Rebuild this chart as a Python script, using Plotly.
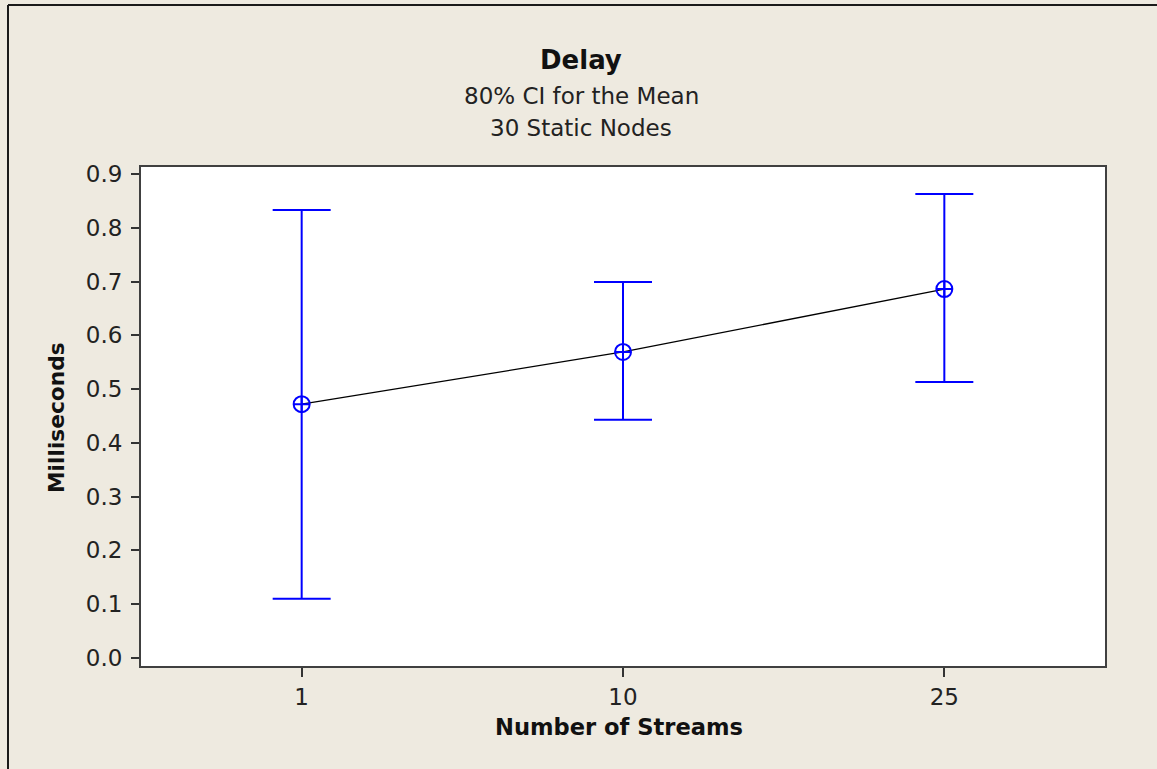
import plotly.graph_objects as go

# Delay interval plot: mean and 80% confidence interval per stream count
streams = ["1", "10", "25"]
mean_ms = [0.472, 0.569, 0.686]
upper_ms = [0.833, 0.699, 0.863]
lower_ms = [0.110, 0.443, 0.513]
y_ticks = [0.0, 0.1, 0.2, 0.3, 0.4, 0.5, 0.6, 0.7, 0.8, 0.9]

BG = "#EEEAE0"
BLUE = "#0000FF"
FONT = "DejaVu Sans"

err_plus = [u - m for u, m in zip(upper_ms, mean_ms)]
err_minus = [m - l for m, l in zip(mean_ms, lower_ms)]
xpos = list(range(len(streams)))

fig = go.Figure()

# line joining the means
fig.add_trace(go.Scatter(
    x=xpos, y=mean_ms, mode="lines",
    line=dict(color="black", width=1.3),
    hoverinfo="skip", showlegend=False,
))

# interval bars with mean symbols
fig.add_trace(go.Scatter(
    x=xpos, y=mean_ms, mode="markers",
    marker=dict(symbol="circle-cross-open", size=16, color=BLUE,
                line=dict(color=BLUE, width=2)),
    error_y=dict(type="data", symmetric=False, array=err_plus,
                 arrayminus=err_minus, color=BLUE, thickness=2, width=29),
    showlegend=False,
))

fig.update_layout(
    width=1157, height=769,
    margin=dict(l=141, r=52, t=167, b=103),
    paper_bgcolor=BG, plot_bgcolor="white",
    font=dict(family=FONT, size=23, color="#222222"),
    showlegend=False,
)

fig.update_xaxes(
    range=[-0.5, 2.5], tickmode="array", tickvals=xpos, ticktext=streams,
    showgrid=False, zeroline=False, showline=True, mirror=True,
    linecolor="#404040", linewidth=2,
    ticks="outside", ticklen=9, tickwidth=2, tickcolor="#333333",
    tickfont=dict(size=23),
)
fig.update_yaxes(
    range=[-0.015, 0.913], tickmode="array", tickvals=y_ticks,
    ticktext=[f"{v:.1f}" for v in y_ticks],
    showgrid=False, zeroline=False, showline=True, mirror=True,
    linecolor="#404040", linewidth=2,
    ticks="outside", ticklen=8, tickwidth=2, tickcolor="#333333",
    tickfont=dict(size=23), ticklabelstandoff=4,
)

# titles
cx = (581 - 141) / 964
fig.add_annotation(text="<b>Delay</b>", xref="paper", yref="paper", x=cx,
                   y=1 + (167 - 60) / 499, showarrow=False,
                   font=dict(size=26, color="#111111", family=FONT),
                   xanchor="center", yanchor="middle")
fig.add_annotation(text="80% CI for the Mean", xref="paper", yref="paper", x=cx,
                   y=1 + (167 - 96) / 499, showarrow=False,
                   font=dict(size=23), xanchor="center", yanchor="middle")
fig.add_annotation(text="30 Static Nodes", xref="paper", yref="paper", x=cx,
                   y=1 + (167 - 128) / 499, showarrow=False,
                   font=dict(size=23), xanchor="center", yanchor="middle")

# axis titles
fig.add_annotation(text="<b>Number of Streams</b>", xref="paper", yref="paper",
                   x=(619 - 141) / 964, y=-(727 - 666) / 499, showarrow=False,
                   font=dict(size=22.6, color="#111111"),
                   xanchor="center", yanchor="middle")
fig.add_annotation(text="<b>Milliseconds</b>", xref="paper", yref="paper",
                   x=-(141 - 56) / 964, y=(666 - 418) / 499, showarrow=False,
                   textangle=-90, font=dict(size=21.7, color="#111111"),
                   xanchor="center", yanchor="middle")

# outer frame edges (left and top)
fig.add_shape(type="line", xref="paper", yref="paper",
              x0=-(141 - 8) / 964, x1=-(141 - 8) / 964,
              y0=1 + (167 - 5) / 499, y1=-0.4,
              line=dict(color="#1a1a1a", width=2))
fig.add_shape(type="line", xref="paper", yref="paper",
              x0=-(141 - 8) / 964, x1=1.2,
              y0=1 + (167 - 5) / 499, y1=1 + (167 - 5) / 499,
              line=dict(color="#1a1a1a", width=2))

fig.write_html("out.html")
